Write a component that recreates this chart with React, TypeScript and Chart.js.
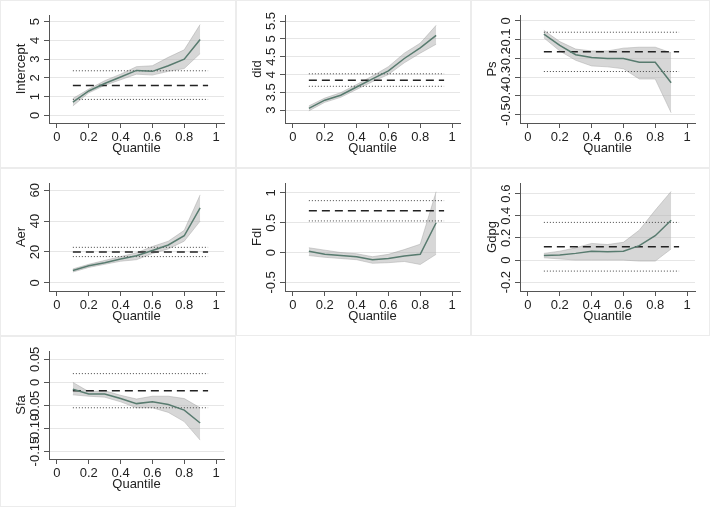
import { useEffect, useRef } from "react";
import { Chart, registerables } from "chart.js";

Chart.register(...registerables);

const FONT = '"Liberation Sans", Arial, sans-serif';

const QUANTILES = [0.1, 0.2, 0.3, 0.4, 0.5, 0.6, 0.7, 0.8, 0.9];
const OLS_SPAN = [0.1, 0.95];
const X_TICKS = [0, 0.2, 0.4, 0.6, 0.8, 1];

// quantile coefficients, band bounds, OLS [estimate, lower, upper]
const INTERCEPT_COEF = [0.7, 1.3, 1.7, 2.05, 2.4, 2.35, 2.65, 3.0, 4.05];
const INTERCEPT_LO = [0.5, 1.2, 1.6, 1.9, 2.2, 2.15, 2.35, 2.5, 3.3];
const INTERCEPT_HI = [0.9, 1.4, 1.85, 2.2, 2.6, 2.65, 3.1, 3.5, 4.85];
const INTERCEPT_OLS = [1.6, 0.85, 2.38];
const INTERCEPT_TICKS = [0, 1, 2, 3, 4, 5];

const DID_COEF = [3.05, 3.28, 3.42, 3.65, 3.88, 4.1, 4.45, 4.75, 5.1];
const DID_LO = [2.98, 3.22, 3.36, 3.58, 3.8, 4.0, 4.33, 4.6, 4.85];
const DID_HI = [3.12, 3.34, 3.49, 3.72, 3.96, 4.22, 4.6, 4.88, 5.38];
const DID_OLS = [3.84, 3.67, 4.02];
const DID_TICKS = [3, 3.5, 4, 4.5, 5, 5.5];

const PS_COEF = [-0.07, -0.13, -0.18, -0.195, -0.2, -0.2, -0.22, -0.22, -0.33];
const PS_LO = [-0.09, -0.16, -0.21, -0.24, -0.245, -0.255, -0.31, -0.31, -0.49];
const PS_HI = [-0.05, -0.11, -0.15, -0.16, -0.16, -0.145, -0.14, -0.14, -0.17];
const PS_OLS = [-0.165, -0.27, -0.06];
const PS_TICKS = [-0.5, -0.4, -0.3, -0.2, -0.1, 0];

const AER_COEF = [8, 11, 13, 15.5, 17.5, 21, 24.5, 30.5, 48.5];
const AER_LO = [7, 10, 12, 14, 15, 19, 22, 27, 40];
const AER_HI = [9, 12, 14.5, 17, 19.5, 23.5, 27, 34, 57];
const AER_OLS = [20, 17, 23];
const AER_TICKS = [0, 20, 40, 60];

const FDL_COEF = [0.02, -0.03, -0.05, -0.07, -0.12, -0.1, -0.06, -0.03, 0.5];
const FDL_LO = [-0.05, -0.08, -0.1, -0.12, -0.18, -0.17, -0.15, -0.2, -0.03];
const FDL_HI = [0.08, 0.04, 0.0, -0.02, -0.07, -0.03, 0.05, 0.14, 1.02];
const FDL_OLS = [0.7, 0.53, 0.87];
const FDL_TICKS = [-0.5, 0, 0.5, 1];

const GDPG_COEF = [0.04, 0.045, 0.06, 0.08, 0.075, 0.08, 0.13, 0.22, 0.36];
const GDPG_LO = [0.02, 0.01, 0.0, 0.0, 0.0, 0.0, -0.01, -0.01, 0.1];
const GDPG_HI = [0.06, 0.08, 0.11, 0.15, 0.14, 0.16, 0.27, 0.45, 0.62];
const GDPG_OLS = [0.12, -0.1, 0.34];
const GDPG_TICKS = [-0.2, 0, 0.2, 0.4, 0.6];

const SFA_COEF = [-0.015, -0.025, -0.025, -0.035, -0.046, -0.042, -0.048, -0.06, -0.088];
const SFA_LO = [-0.027, -0.03, -0.032, -0.042, -0.055, -0.055, -0.065, -0.085, -0.125];
const SFA_HI = [0.0, -0.02, -0.018, -0.028, -0.036, -0.03, -0.03, -0.035, -0.055];
const SFA_OLS = [-0.018, -0.055, 0.019];
const SFA_TICKS = [-0.15, -0.1, -0.05, 0, 0.05];
const SFA_TICK_LABELS = ["-0.15", "-0.10", "-0.05", "0", "0.05"];

interface PanelSpec {
  title: string;
  coef: number[];
  lo: number[];
  hi: number[];
  ols: number[];
  ticks: number[];
  tickLabels?: string[];
  min: number;
  max: number;
  left: number;
  top: number;
  boxW: number;
  boxH: number;
}

const PANELS: PanelSpec[] = [
  { title: "Intercept", coef: INTERCEPT_COEF, lo: INTERCEPT_LO, hi: INTERCEPT_HI, ols: INTERCEPT_OLS, ticks: INTERCEPT_TICKS, min: -0.41, max: 5.36, left: 0, top: 0, boxW: 236, boxH: 168 },
  { title: "did", coef: DID_COEF, lo: DID_LO, hi: DID_HI, ols: DID_OLS, ticks: DID_TICKS, min: 2.64, max: 5.67, left: 236, top: 0, boxW: 235, boxH: 168 },
  { title: "Ps", coef: PS_COEF, lo: PS_LO, hi: PS_HI, ols: PS_OLS, ticks: PS_TICKS, min: -0.545, max: 0.032, left: 471, top: 0, boxW: 239, boxH: 168 },
  { title: "Aer", coef: AER_COEF, lo: AER_LO, hi: AER_HI, ols: AER_OLS, ticks: AER_TICKS, min: -5.3, max: 64.7, left: 0, top: 168, boxW: 236, boxH: 168 },
  { title: "Fdl", coef: FDL_COEF, lo: FDL_LO, hi: FDL_HI, ols: FDL_OLS, ticks: FDL_TICKS, min: -0.645, max: 1.166, left: 236, top: 168, boxW: 235, boxH: 168 },
  { title: "Gdpg", coef: GDPG_COEF, lo: GDPG_LO, hi: GDPG_HI, ols: GDPG_OLS, ticks: GDPG_TICKS, min: -0.28, max: 0.696, left: 471, top: 168, boxW: 239, boxH: 168 },
  { title: "Sfa", coef: SFA_COEF, lo: SFA_LO, hi: SFA_HI, ols: SFA_OLS, ticks: SFA_TICKS, tickLabels: SFA_TICK_LABELS, min: -0.166, max: 0.068, left: 0, top: 336, boxW: 236, boxH: 171 },
];

// y tick labels in Stata are rotated; chart.js only rotates horizontal scales
const rotatedYTicks = {
  id: "rotatedYTicks",
  afterDraw(chart: any, _args: any, opts: any) {
    const { ctx } = chart;
    const y = chart.scales.y;
    ctx.save();
    ctx.fillStyle = "#222";
    ctx.font = `13px ${FONT}`;
    ctx.textAlign = "center";
    ctx.textBaseline = "middle";
    opts.values.forEach((v: number, i: number) => {
      ctx.save();
      ctx.translate(y.left + 35, y.getPixelForValue(v));
      ctx.rotate(-Math.PI / 2);
      ctx.fillText(opts.labels[i], 0, 0);
      ctx.restore();
    });
    ctx.restore();
  },
};

const Panel = ({ spec }: { spec: PanelSpec }) => {
  const ref = useRef<HTMLCanvasElement>(null);

  useEffect(() => {
    if (!ref.current) return;
    const pts = (ys: number[]) => QUANTILES.map((q, i) => ({ x: q, y: ys[i] }));
    const flat = (v: number) => OLS_SPAN.map((x) => ({ x, y: v }));
    const labels = spec.tickLabels ?? spec.ticks.map((t) => String(t));

    const chart = new Chart(ref.current, {
      type: "line",
      data: {
        datasets: [
          {
            data: pts(spec.lo),
            borderColor: "rgba(150,150,150,0.5)",
            borderWidth: 0.8,
            pointRadius: 0,
            fill: false,
            order: 5,
          },
          {
            data: pts(spec.hi),
            borderColor: "rgba(150,150,150,0.5)",
            borderWidth: 0.8,
            pointRadius: 0,
            backgroundColor: "rgba(175,175,175,0.5)",
            fill: "-1",
            order: 4,
          },
          {
            data: flat(spec.ols[1]),
            borderColor: "#444",
            borderWidth: 1,
            borderDash: [1, 2],
            pointRadius: 0,
            order: 3,
          },
          {
            data: flat(spec.ols[2]),
            borderColor: "#444",
            borderWidth: 1,
            borderDash: [1, 2],
            pointRadius: 0,
            order: 3,
          },
          {
            data: flat(spec.ols[0]),
            borderColor: "#222",
            borderWidth: 1.5,
            borderDash: [8, 5],
            pointRadius: 0,
            order: 2,
          },
          {
            data: pts(spec.coef),
            borderColor: "#587b6f",
            borderWidth: 1.5,
            pointRadius: 0,
            order: 1,
          },
        ],
      },
      options: {
        animation: false,
        responsive: false,
        events: [],
        layout: { padding: { left: 0, top: 15, right: 12, bottom: 12 } },
        plugins: {
          legend: { display: false },
          tooltip: { enabled: false },
          rotatedYTicks: { values: spec.ticks, labels },
        } as any,
        scales: {
          x: {
            type: "linear",
            min: -0.05,
            max: 1.05,
            afterBuildTicks: (scale: any) => {
              scale.ticks = X_TICKS.map((v) => ({ value: v }));
            },
            afterFit: (scale: any) => {
              scale.height = 33;
            },
            ticks: {
              color: "#222",
              font: { family: FONT, size: 13 },
              padding: 2,
              maxRotation: 0,
              callback: (v: any) => String(v),
            },
            grid: {
              drawOnChartArea: false,
              drawTicks: true,
              tickLength: 5,
              tickColor: "#555",
            },
            border: { display: true, color: "#555", width: 1 },
            title: {
              display: true,
              text: "Quantile",
              color: "#222",
              font: { family: FONT, size: 13 },
              padding: { top: 0, bottom: 0 },
            },
          },
          y: {
            type: "linear",
            min: spec.min,
            max: spec.max,
            afterBuildTicks: (scale: any) => {
              scale.ticks = spec.ticks.map((v) => ({ value: v }));
            },
            afterFit: (scale: any) => {
              scale.width = 49;
            },
            ticks: { display: false },
            grid: {
              color: "#e6e6e6",
              drawTicks: true,
              tickLength: 5,
              tickColor: "#555",
            },
            border: { display: true, color: "#555", width: 1 },
            title: {
              display: true,
              text: spec.title,
              color: "#222",
              font: { family: FONT, size: 13 },
              padding: { top: 14, bottom: 0 },
            },
          },
        },
      },
      plugins: [rotatedYTicks],
    });

    return () => chart.destroy();
  }, [spec]);

  return (
    <div
      style={{
        position: "absolute",
        left: spec.left,
        top: spec.top,
        width: spec.boxW,
        height: spec.boxH,
        boxSizing: "border-box",
        border: "1px solid #ececec",
        overflow: "hidden",
      }}
    >
      <canvas
        ref={ref}
        width={236}
        height={168}
        style={{ position: "absolute", left: -1, top: -1 }}
      />
    </div>
  );
};

const App = () => {
  return (
    <div
      style={{
        position: "fixed",
        left: 0,
        top: 0,
        width: 710,
        height: 510,
        background: "#fff",
      }}
    >
      {PANELS.map((p) => (
        <Panel key={p.title} spec={p} />
      ))}
    </div>
  );
};

export default App;
